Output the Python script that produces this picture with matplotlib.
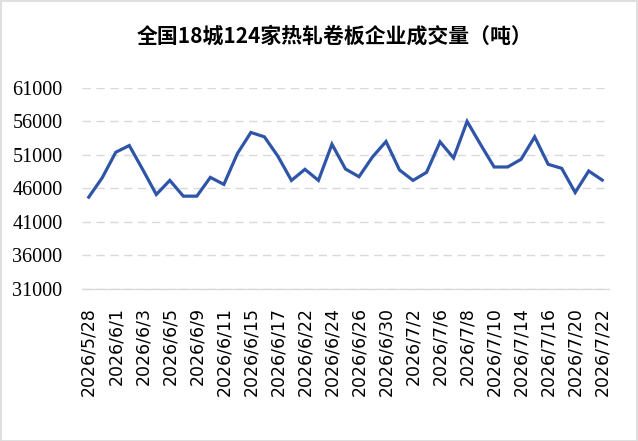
import matplotlib.pyplot as plt
from matplotlib.patches import Rectangle

# trading days shown on the category axis
dates = ['2026/5/28', '2026/5/29', '2026/6/1', '2026/6/2', '2026/6/3', '2026/6/4',
         '2026/6/5', '2026/6/8', '2026/6/9', '2026/6/10', '2026/6/11', '2026/6/12',
         '2026/6/15', '2026/6/16', '2026/6/17', '2026/6/18', '2026/6/22', '2026/6/23',
         '2026/6/24', '2026/6/25', '2026/6/26', '2026/6/29', '2026/6/30', '2026/7/1',
         '2026/7/2', '2026/7/3', '2026/7/6', '2026/7/7', '2026/7/8', '2026/7/9',
         '2026/7/10', '2026/7/13', '2026/7/14', '2026/7/15', '2026/7/16', '2026/7/17',
         '2026/7/20', '2026/7/21', '2026/7/22']

# volume (tons)
volume = [44700, 47600, 51400, 52400, 48800, 45100, 47200, 44850, 44850, 47650,
          46600, 51200, 54350, 53700, 50800, 47200, 48850, 47200, 52600, 48900,
          47750, 50700, 53000, 48750, 47200, 48400, 52950, 50550, 56000, 52550,
          49200, 49200, 50350, 53700, 49600, 49000, 45400, 48600, 47250]

yticks = list(range(31000, 61001, 5000))


def main():
    fig = plt.figure(figsize=(6.38, 4.41), dpi=100)
    ax = fig.add_axes([0.1285, 0.3447, 0.826, 0.456])

    x = list(range(len(volume)))
    ax.plot(x, volume, color='#2F55A8', linewidth=2.3, solid_joinstyle='miter')

    ax.set_xlim(-0.5, len(volume) - 0.5)
    ax.set_ylim(31000, 61000)
    ax.set_yticks(yticks)
    ax.set_yticklabels([str(v) for v in yticks], family='Liberation Serif', fontsize=14.5)

    ax.set_xticks(x[::2])
    ax.set_xticklabels(dates[::2], rotation=90, family='DejaVu Sans', fontsize=12.5)
    ax.tick_params(axis='both', length=0)
    ax.tick_params(axis='x', pad=13)
    ax.tick_params(axis='y', pad=14)

    # dashed horizontal gridlines, solid bottom axis
    ax.grid(axis='y', color='#D9D9D9', linestyle=(0, (6, 4)), linewidth=1.0)
    ax.set_axisbelow(True)
    for s in ['top', 'right', 'left']:
        ax.spines[s].set_visible(False)
    ax.spines['bottom'].set_color('#D9D9D9')
    ax.spines['bottom'].set_linewidth(1.0)

    fig.text(0.524, 0.918, '全国18城124家热轧卷板企业成交量（吨）',
             ha='center', va='center', fontsize=15, fontweight='bold',
             family=['Noto Sans CJK SC', 'DejaVu Sans'])

    # light frame around the chart
    fig.patches.append(Rectangle((0.001, 0.001), 0.997, 0.997, transform=fig.transFigure,
                                 fill=False, edgecolor='#D9D9D9', linewidth=1.2))

    plt.savefig('out.png', dpi=100)


if __name__ == "__main__":
    main()
